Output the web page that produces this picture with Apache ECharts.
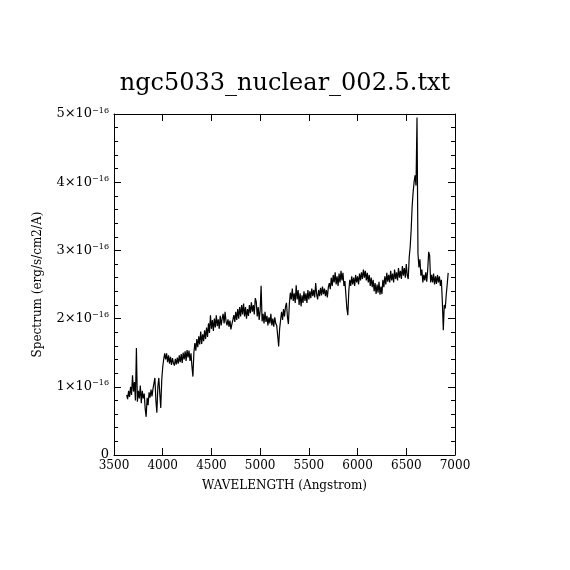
<!DOCTYPE html>
<html>
<head>
<meta charset="utf-8">
<title>ngc5033_nuclear_002.5.txt</title>
<script src="https://cdn.jsdelivr.net/npm/echarts@6.0.0/dist/echarts.min.js"></script>
<style>
  html, body { margin: 0; padding: 0; background: #fff; }
  #chart { width: 570px; height: 570px; }
</style>
</head>
<body>
<div id="chart"></div>
<script>
// wavelength in Angstrom
const wavelength = [
  3630, 3640, 3650, 3660, 3670, 3680, 3690, 3700, 3710, 3720,
  3730, 3740, 3750, 3760, 3770, 3780, 3790, 3800, 3810, 3820,
  3830, 3840, 3850, 3860, 3870, 3880, 3890, 3900, 3910, 3920,
  3930, 3940, 3950, 3960, 3970, 3980, 3990, 4000, 4010, 4020,
  4030, 4040, 4050, 4060, 4070, 4080, 4090, 4100, 4110, 4120,
  4130, 4140, 4150, 4160, 4170, 4180, 4190, 4200, 4210, 4220,
  4230, 4240, 4250, 4260, 4270, 4280, 4290, 4300, 4310, 4320,
  4330, 4340, 4350, 4360, 4370, 4380, 4390, 4400, 4410, 4420,
  4430, 4440, 4450, 4460, 4470, 4480, 4490, 4500, 4510, 4520,
  4530, 4540, 4550, 4560, 4570, 4580, 4590, 4600, 4610, 4620,
  4630, 4640, 4650, 4660, 4670, 4680, 4690, 4700, 4710, 4720,
  4730, 4740, 4750, 4760, 4770, 4780, 4790, 4800, 4810, 4820,
  4830, 4840, 4850, 4860, 4870, 4880, 4890, 4900, 4910, 4920,
  4930, 4940, 4950, 4960, 4970, 4980, 4990, 5000, 5010, 5020,
  5030, 5040, 5050, 5060, 5070, 5080, 5090, 5100, 5110, 5120,
  5130, 5140, 5150, 5160, 5170, 5180, 5190, 5200, 5210, 5220,
  5230, 5240, 5250, 5260, 5270, 5280, 5290, 5300, 5310, 5320,
  5330, 5340, 5350, 5360, 5370, 5380, 5390, 5400, 5410, 5420,
  5430, 5440, 5450, 5460, 5470, 5480, 5490, 5500, 5510, 5520,
  5530, 5540, 5550, 5560, 5570, 5580, 5590, 5600, 5610, 5620,
  5630, 5640, 5650, 5660, 5670, 5680, 5690, 5700, 5710, 5720,
  5730, 5740, 5750, 5760, 5770, 5780, 5790, 5800, 5810, 5820,
  5830, 5840, 5850, 5860, 5870, 5880, 5890, 5900, 5910, 5920,
  5930, 5940, 5950, 5960, 5970, 5980, 5990, 6000, 6010, 6020,
  6030, 6040, 6050, 6060, 6070, 6080, 6090, 6100, 6110, 6120,
  6130, 6140, 6150, 6160, 6170, 6180, 6190, 6200, 6210, 6220,
  6230, 6240, 6250, 6260, 6270, 6280, 6290, 6300, 6310, 6320,
  6330, 6340, 6350, 6360, 6370, 6380, 6390, 6400, 6410, 6420,
  6430, 6440, 6450, 6460, 6470, 6480, 6490, 6500, 6510, 6520,
  6530, 6540, 6550, 6560, 6570, 6580, 6590, 6600, 6610, 6620,
  6630, 6640, 6650, 6660, 6670, 6680, 6690, 6700, 6710, 6720,
  6730, 6740, 6750, 6760, 6770, 6780, 6790, 6800, 6810, 6820,
  6830, 6840, 6850, 6860, 6870, 6880, 6890, 6900, 6910, 6920, 6930
];

// flux in units of 1e-16 erg/s/cm2/A
const flux = [
  0.88, 0.82, 0.94, 0.85, 1.00, 0.88, 1.17, 0.93, 1.07, 0.80,
  1.57, 0.78, 0.94, 0.83, 1.02, 0.76, 0.94, 0.83, 0.90, 0.68,
  0.56, 0.84, 0.73, 0.92, 0.84, 0.96, 0.86, 0.97, 1.05, 1.13,
  0.80, 0.62, 1.00, 1.13, 0.90, 0.69, 1.10, 1.29, 1.40, 1.49,
  1.40, 1.49, 1.36, 1.46, 1.34, 1.44, 1.32, 1.42, 1.35, 1.31,
  1.41, 1.33, 1.43, 1.34, 1.46, 1.36, 1.48, 1.35, 1.50, 1.40,
  1.52, 1.38, 1.54, 1.43, 1.53, 1.38, 1.49, 1.30, 1.15, 1.50,
  1.64, 1.53, 1.70, 1.58, 1.74, 1.62, 1.81, 1.63, 1.77, 1.67,
  1.83, 1.70, 1.87, 1.73, 1.93, 1.79, 2.05, 1.85, 1.98, 1.82,
  2.00, 1.87, 2.05, 1.89, 1.99, 1.85, 2.04, 1.90, 2.00, 2.07,
  1.93, 2.10, 1.96, 1.90, 1.99, 1.88, 1.97, 1.84, 1.92, 1.98,
  2.05, 1.95, 2.10, 1.98, 2.14, 2.00, 2.17, 2.03, 2.20, 2.06,
  2.22, 2.03, 2.17, 2.00, 2.14, 2.04, 2.20, 2.08, 2.24, 2.10,
  2.20, 2.06, 2.30, 2.25, 2.03, 2.17, 1.98, 2.12, 2.48, 1.96,
  2.07, 1.93, 2.10, 1.95, 2.04, 1.90, 2.02, 1.93, 2.07, 1.90,
  2.00, 1.88, 2.02, 1.93, 1.90, 1.75, 1.59, 1.85, 1.98, 2.10,
  1.98, 2.14, 2.03, 2.17, 2.23, 2.03, 1.92, 2.22, 2.38, 2.28,
  2.44, 2.26, 2.37, 2.23, 2.49, 2.28, 2.42, 2.20, 2.37, 2.18,
  2.34, 2.23, 2.40, 2.26, 2.37, 2.23, 2.42, 2.28, 2.40, 2.30,
  2.44, 2.33, 2.42, 2.31, 2.52, 2.36, 2.28, 2.42, 2.33, 2.45,
  2.34, 2.47, 2.36, 2.44, 2.33, 2.42, 2.31, 2.46, 2.52, 2.43,
  2.60, 2.48, 2.64, 2.53, 2.68, 2.50, 2.62, 2.48, 2.66, 2.53,
  2.70, 2.56, 2.67, 2.48, 2.55, 2.35, 2.15, 2.05, 2.40, 2.57,
  2.48, 2.62, 2.50, 2.60, 2.48, 2.64, 2.53, 2.62, 2.50, 2.66,
  2.56, 2.68, 2.58, 2.72, 2.60, 2.70, 2.56, 2.67, 2.53, 2.64,
  2.48, 2.60, 2.46, 2.57, 2.40, 2.52, 2.36, 2.50, 2.38, 2.54,
  2.35, 2.47, 2.36, 2.57, 2.46, 2.62, 2.50, 2.67, 2.54, 2.64,
  2.53, 2.70, 2.56, 2.66, 2.53, 2.72, 2.58, 2.68, 2.56, 2.74,
  2.60, 2.70, 2.58, 2.77, 2.63, 2.74, 2.60, 2.80, 2.63, 2.58,
  2.90, 3.05, 3.30, 3.64, 3.85, 4.00, 4.10, 3.95, 4.95, 2.95,
  2.75, 2.87, 2.63, 2.72, 2.53, 2.64, 2.56, 2.68, 2.54, 2.72,
  2.98, 2.92, 2.53, 2.64, 2.53, 2.66, 2.50, 2.62, 2.51, 2.64,
  2.53, 2.62, 2.48, 2.57, 2.25, 1.83, 2.20, 2.15, 2.35, 2.50, 2.67
];

const xTicks = [3500, 4000, 4500, 5000, 5500, 6000, 6500, 7000];
const yTicks = [0, 1, 2, 3, 4, 5];

const serif = 'DejaVu Serif';

const chart = echarts.init(document.getElementById('chart'));

const axisCommon = {
  axisLine: { onZero: false, lineStyle: { color: '#000', width: 1 } },
  axisTick: { inside: true, length: 7, lineStyle: { color: '#000', width: 1 } },
  splitLine: { show: false }
};

chart.setOption({
  animation: false,
  backgroundColor: '#fff',
  title: {
    text: 'ngc5033_nuclear_002.5.txt',
    left: 'center',
    top: 67,
    textStyle: { fontFamily: serif, fontSize: 24, fontWeight: 'normal', color: '#000' }
  },
  grid: { left: 114, right: 115, top: 114, bottom: 115 },
  xAxis: [
    Object.assign({}, axisCommon, {
      type: 'value',
      position: 'bottom',
      min: xTicks[0],
      max: xTicks[xTicks.length - 1],
      interval: 500,
      name: 'WAVELENGTH (Angstrom)',
      nameLocation: 'middle',
      nameGap: 25,
      nameTextStyle: { fontFamily: serif, fontSize: 12, color: '#000' },
      axisLabel: { color: '#000', fontFamily: serif, fontSize: 12, margin: 5, formatter: v => String(v) }
    }),
    Object.assign({}, axisCommon, {
      type: 'value',
      position: 'top',
      min: xTicks[0],
      max: xTicks[xTicks.length - 1],
      interval: 500,
      axisLabel: { show: false }
    })
  ],
  yAxis: [
    Object.assign({}, axisCommon, {
      type: 'value',
      position: 'left',
      min: yTicks[0],
      max: yTicks[yTicks.length - 1],
      interval: 1,
      minorTick: { show: true, splitNumber: 5, length: 4, lineStyle: { color: '#000' } },
      name: 'Spectrum (erg/s/cm2/A)',
      nameLocation: 'middle',
      nameGap: 70,
      nameTextStyle: { fontFamily: serif, fontSize: 12, color: '#000' },
      axisLabel: {
        color: '#000',
        margin: 5,
        formatter: v => v === 0 ? '{m|0}' : '{m|' + v + '×10}{e|−16}',
        rich: {
          m: { fontFamily: serif, fontSize: 13, color: '#000' },
          e: { fontFamily: serif, fontSize: 8, color: '#000', verticalAlign: 'top', padding: [0, 0, 7, 0] }
        }
      }
    }),
    Object.assign({}, axisCommon, {
      type: 'value',
      position: 'right',
      min: yTicks[0],
      max: yTicks[yTicks.length - 1],
      interval: 1,
      minorTick: { show: true, splitNumber: 5, length: 4, lineStyle: { color: '#000' } },
      axisLabel: { show: false }
    })
  ],
  series: [
    {
      type: 'line',
      xAxisIndex: 0,
      yAxisIndex: 0,
      data: wavelength.map((w, i) => [w, flux[i]]),
      showSymbol: false,
      lineStyle: { color: '#000', width: 1.2 }
    }
  ]
});
</script>
</body>
</html>
